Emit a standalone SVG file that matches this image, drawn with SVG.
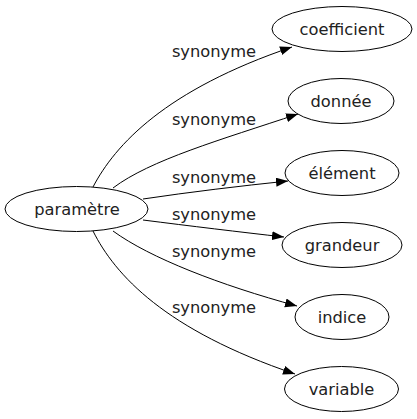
<svg xmlns="http://www.w3.org/2000/svg" width="417" height="419" viewBox="0 0 417 419">
<style>
.n ellipse{fill:none;stroke:#000;stroke-width:1}
text{font-family:"DejaVu Sans","Liberation Sans",sans-serif;font-size:16.3px;fill:#222;text-anchor:middle}
.e path{fill:none;stroke:#000;stroke-width:1;marker-end:url(#ah)}
</style>
<defs>
<marker id="ah" markerUnits="userSpaceOnUse" markerWidth="14" markerHeight="10" refX="12" refY="4.5" orient="auto">
<polygon points="0,0 12,4.5 0,9" fill="#000"/>
</marker>
</defs>
<rect width="417" height="419" fill="#fff"/>
<g id="edges" class="e">
<path d="M93,187 C115,145 165,90 292,47"/>
<path d="M113,188 C150,160 220,140 298,114"/>
<path d="M143,199 C190,192 240,186 288,181"/>
<path d="M143,220 C190,226 240,232 284,237"/>
<path d="M113,231 C150,258 220,285 297,306"/>
<path d="M93,231 C115,275 165,330 295,374"/>
<text x="214" y="57">synonyme</text>
<text x="214" y="125">synonyme</text>
<text x="214" y="183">synonyme</text>
<text x="214" y="220">synonyme</text>
<text x="214" y="257">synonyme</text>
<text x="214" y="313">synonyme</text>
</g>
<g id="parametre" class="n"><ellipse cx="76.5" cy="209" rx="71.5" ry="22.5"/><text x="77" y="215">paramètre</text></g>
<g id="coefficient" class="n"><ellipse cx="342" cy="29" rx="70" ry="22.5"/><text x="342" y="35">coefficient</text></g>
<g id="donnee" class="n"><ellipse cx="341" cy="101" rx="53" ry="22.5"/><text x="341" y="107">donnée</text></g>
<g id="element" class="n"><ellipse cx="342" cy="173" rx="57" ry="22.5"/><text x="342" y="179">élément</text></g>
<g id="grandeur" class="n"><ellipse cx="342" cy="245" rx="60" ry="22.5"/><text x="342" y="251">grandeur</text></g>
<g id="indice" class="n"><ellipse cx="342" cy="317" rx="47" ry="22.5"/><text x="342" y="323">indice</text></g>
<g id="variable" class="n"><ellipse cx="341.5" cy="389" rx="57" ry="22.5"/><text x="341.5" y="395">variable</text></g>
</svg>
